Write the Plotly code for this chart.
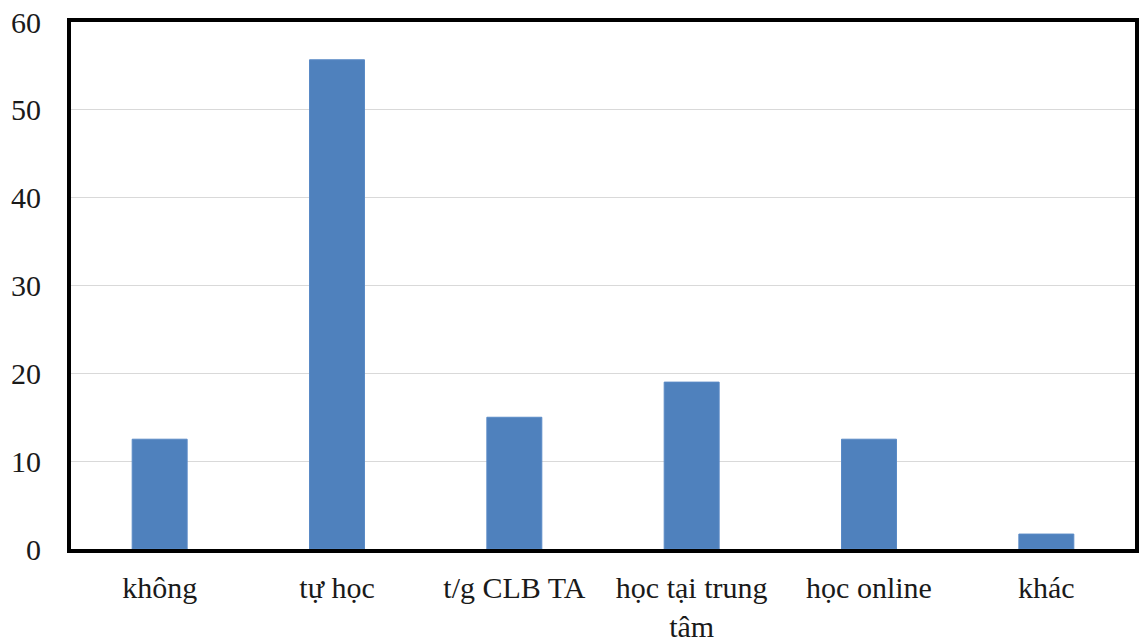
import plotly.graph_objects as go

categories = ["không", "tự học", "t/g CLB TA", "học tại trung<br>tâm", "học online", "khác"]
values = [12.5, 55.7, 15.0, 19.0, 12.5, 1.7]
y_ticks = [0, 10, 20, 30, 40, 50, 60]

fig = go.Figure(go.Bar(
    x=categories, y=values,
    marker=dict(color="#4f81bd", line=dict(color="#5a8ac6", width=1)),
))

font = dict(family="Liberation Serif, Times New Roman, serif", size=30, color="#1a1a1a")

fig.update_layout(
    width=1139, height=643,
    margin=dict(l=71, r=4, t=22, b=94),
    paper_bgcolor="white", plot_bgcolor="white",
    bargap=0.69,
    showlegend=False,
    font=font,
)
fig.update_xaxes(
    showline=True, linecolor="black", linewidth=4, mirror=True,
    ticks="", showgrid=False, tickfont=font, range=[-0.5, 5.5],
    ticklabelstandoff=9, automargin=False,
)
fig.update_yaxes(
    range=[0, 60], tickvals=y_ticks, showgrid=True, gridcolor="#d9d9d9", gridwidth=1,
    showline=True, linecolor="black", linewidth=4, mirror=True,
    ticks="", tickfont=font, ticklabelstandoff=20, zeroline=False, automargin=False,
)

fig.write_html(
    "out.html",
    config={"displayModeBar": False},
    post_script="document.body.style.margin='0';document.body.style.overflow='hidden';",
)
